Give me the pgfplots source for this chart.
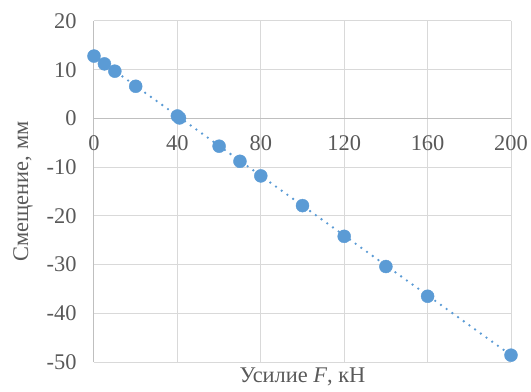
\documentclass[border=0pt]{standalone}
\usepackage{fontspec}
\setmainfont{Liberation Serif}
\usepackage{pgfplots}
\pgfplotsset{compat=1.18}
\definecolor{txt}{HTML}{595959}
\definecolor{grd}{HTML}{D9D9D9}
\definecolor{axl}{HTML}{BFBFBF}
\definecolor{blu}{HTML}{5B9BD5}
\begin{document}
\begin{tikzpicture}
\begin{axis}[
  scale only axis, width=417bp, height=341bp,
  xmin=0, xmax=200, ymin=-50, ymax=20,
  axis x line=middle, axis y line=left,
  axis line style={-, draw=axl, line width=1bp},
  hide obscured x ticks=false, hide obscured y ticks=false,
  xtick={0,40,...,200}, ytick={-50,-40,...,20},
  major tick length=0pt,
  grid=major, major grid style={draw=grd, line width=1bp},
  tick label style={font=\fontsize{22.5}{26}\selectfont, text=txt},
  /pgf/number format/assume math mode=true,
  xticklabel style={anchor=north, yshift=-14bp},
  yticklabel style={anchor=east, xshift=-14bp},
  xlabel={Усилие \textit{F}, кН},
  ylabel={Смещение, мм},
  label style={font=\fontsize{22.5}{26}\selectfont, text=txt},
  x label style={at={(axis description cs:0.5,0)}, anchor=north, yshift=-2bp},
  y label style={at={([xshift=-71bp]axis description cs:0,0.5)}, anchor=center},
]
\addplot[only marks, mark=*, mark size=6.5bp, mark options={fill=blu, draw=blu}]
coordinates {
(0,12.8) (5,11.2) (10,9.7) (20,6.6) (40,0.5) (41,0.1) (60,-5.7) (70,-8.8)
(80,-11.8) (100,-17.9) (120,-24.2) (140,-30.4) (160,-36.5) (200,-48.6)
};
\addplot[blu, line width=2.6bp, line cap=round, dash pattern=on 0bp off 7bp]
coordinates {(0,12.8) (200,-48.6)};
\end{axis}
\pgfresetboundingbox
\path (current axis.south west) ++(-94bp,-30bp) rectangle ++(531bp,392bp);
\end{tikzpicture}
\end{document}
